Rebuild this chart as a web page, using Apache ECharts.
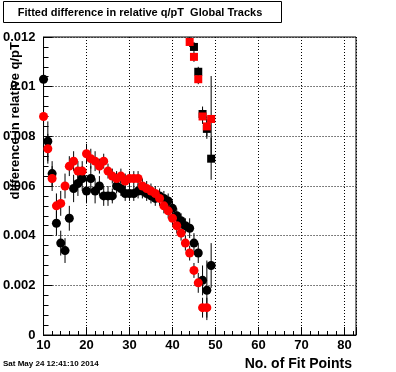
<!DOCTYPE html>
<html><head><meta charset="utf-8">
<script src="https://cdn.jsdelivr.net/npm/echarts@6/dist/echarts.min.js"></script>
<style>html,body{margin:0;padding:0;background:#fff}#c{width:396px;height:372px}</style>
</head><body><div id="c"></div>
<script>
// ---- data ----
var title = 'Fitted difference in relative q/pT  Global Tracks';
var xTitle = 'No. of Fit Points';
var yTitle = 'difference in relative q/pT';
var dateText = 'Sat May 24 12:41:10 2014';

var blackCircX = [10,11,12,13,14,15,16,17,18,19,20,21,22,23,24,25,26,27,28,29,30,31,32,33,34,35,36,37,38,39,40,41,42,43,44,45,46,47,48,49];
var blackCircY = [0.0103,0.0078,0.0065,0.0045,0.0037,0.0034,0.0047,0.0059,0.0061,0.0063,0.0058,0.0063,0.0058,0.0060,0.0056,0.0056,0.0056,0.0060,0.0059,0.0057,0.0057,0.0057,0.0058,0.0058,0.0057,0.0056,0.0055,0.0056,0.0055,0.0054,0.0051,0.0048,0.0046,0.0044,0.0043,0.0037,0.0033,0.0022,0.0018,0.0028];
var blackCircE = [0.0006,0.0008,0.0005,0.0005,0.0005,0.0005,0.0005,0.00055,0.0005,0.0005,0.0005,0.0005,0.0005,0.0004,0.0004,0.0004,0.0003,0.0003,0.0003,0.0003,0.0003,0.0003,0.0003,0.0003,0.0003,0.0003,0.0003,0.0003,0.0003,0.0003,0.0003,0.0003,0.0003,0.0003,0.0004,0.0004,0.0004,0.0006,0.0012,0.0009];

var redCircX = [10,11,12,13,14,15,16,17,18,19,20,21,22,23,24,25,26,27,28,29,30,31,32,33,34,35,36,37,38,39,40,41,42,43,44,45,46,47,48];
var redCircY = [0.0088,0.0075,0.0063,0.0052,0.0053,0.0060,0.0068,0.0070,0.0066,0.0066,0.0073,0.0071,0.0070,0.0068,0.0070,0.0066,0.0064,0.0063,0.0064,0.0062,0.0063,0.0063,0.0063,0.0060,0.0059,0.0058,0.0057,0.0055,0.0052,0.0050,0.0047,0.0044,0.0041,0.0037,0.0033,0.0026,0.0021,0.0011,0.0011];
var redCircE = [0.0006,0.0006,0.0005,0.0005,0.0005,0.0005,0.0004,0.0004,0.0004,0.0004,0.0004,0.0004,0.0004,0.0003,0.0003,0.0003,0.0003,0.0003,0.0003,0.0003,0.0003,0.0003,0.0003,0.0003,0.0003,0.0003,0.0003,0.0003,0.0003,0.0003,0.0003,0.0003,0.0003,0.0003,0.0003,0.0003,0.0004,0.0004,0.0004];

var blackSqX = [45,46,47,48,49];
var blackSqY = [0.0116,0.0106,0.0089,0.0083,0.0071];
var blackSqE = [0.0002,0.0002,0.0003,0.0004,0.00085];

var redSqX = [44,45,46,47,48,49];
var redSqY = [0.0118,0.0112,0.0103,0.0088,0.0084,0.0087];
var redSqE = [0.0002,0.0002,0.0002,0.0003,0.0004,0.00173];

var xTicks = [10,20,30,40,50,60,70,80];
var yTicks = [0,0.002,0.004,0.006,0.008,0.01,0.012];

// ---- build ----
function pts(xs, ys){ return xs.map(function(x,i){ return [x, ys[i]]; }); }
function errs(xs, ys, es){ return xs.map(function(x,i){ return [x, ys[i]-es[i], ys[i]+es[i]]; }); }
function errSeries(data){
  return {
    type:'custom', data:data, clip:true, silent:true, z:1,
    encode:{x:0,y:[1,2]},
    renderItem:function(params, api){
      var a = api.coord([api.value(0), api.value(1)]);
      var b = api.coord([api.value(0), api.value(2)]);
      return {type:'line', shape:{x1:a[0],y1:a[1],x2:b[0],y2:b[1]}, style:{stroke:'#000', lineWidth:1}};
    }
  };
}
var chart = echarts.init(document.getElementById('c'), null, {renderer:'canvas'});
var fontB = 'bold 13px "Liberation Sans", Arial, sans-serif';
chart.setOption({
  backgroundColor:'#fff',
  animation:false,
  grid:{left:41, right:40, top:37, bottom:37, show:true, borderColor:'#000', borderWidth:1, backgroundColor:'transparent'},
  xAxis:{
    type:'value', min:10, max:82.7, interval:10,
    axisLine:{show:true, lineStyle:{color:'#000', width:1}},
    axisTick:{show:true, inside:true, length:8, lineStyle:{color:'#000'}},
    minorTick:{show:true, splitNumber:5, length:4, lineStyle:{color:'#000'}},
    splitLine:{show:true, lineStyle:{color:'#000', type:[1,2], width:1}},
    axisLabel:{show:true, margin:4, showMaxLabel:false, color:'#000', fontFamily:'Liberation Sans', fontWeight:'bold', fontSize:13,
      formatter:function(v){ return xTicks.indexOf(Math.round(v))>=0 && Math.abs(v-Math.round(v))<1e-6 ? String(Math.round(v)) : ''; }}
  },
  yAxis:{
    type:'value', min:0, max:0.012, interval:0.002,
    axisLine:{show:true, lineStyle:{color:'#000', width:1}},
    axisTick:{show:true, inside:true, length:9, lineStyle:{color:'#000'}},
    minorTick:{show:true, splitNumber:5, length:5, lineStyle:{color:'#000'}},
    splitLine:{show:true, lineStyle:{color:'#000', type:[1,2], width:1}},
    axisLabel:{show:true, margin:8, color:'#000', fontFamily:'Liberation Sans', fontWeight:'bold', fontSize:13,
      formatter:function(v){ return String(parseFloat(v.toFixed(4))); }}
  },
  series:[
    errSeries(errs(blackCircX, blackCircY, blackCircE)),
    {type:'scatter', data:pts(blackCircX, blackCircY), symbol:'circle', symbolSize:9, itemStyle:{color:'#000', opacity:1}, z:2, clip:true},
    errSeries(errs(redCircX, redCircY, redCircE)),
    {type:'scatter', data:pts(redCircX, redCircY), symbol:'circle', symbolSize:9, itemStyle:{color:'#ff0000', opacity:1}, z:3, clip:true},
    errSeries(errs(blackSqX, blackSqY, blackSqE)),
    {type:'scatter', data:pts(blackSqX, blackSqY), symbol:'rect', symbolSize:8, itemStyle:{color:'#000', opacity:1}, z:4, clip:true},
    errSeries(errs(redSqX, redSqY, redSqE)),
    {type:'scatter', data:pts(redSqX, redSqY), symbol:'rect', symbolSize:8, itemStyle:{color:'#ff0000', opacity:1}, z:5, clip:true}
  ],
  graphic:[
    {type:'rect', shape:{x:3.5, y:1.5, width:278, height:21}, style:{fill:'#fff', stroke:'#000', lineWidth:1}, z:10},
    {type:'text', x:140, y:12.5, style:{text:title, font:'bold 11px "Liberation Sans", Arial, sans-serif', fill:'#000', textAlign:'center', textVerticalAlign:'middle'}, z:11},
    {type:'text', x:15, y:42, rotation:Math.PI/2, style:{text:yTitle, font:fontB, fill:'#000', textAlign:'right', textVerticalAlign:'middle'}, z:11},
    {type:'text', x:352, y:364, style:{text:xTitle, font:'bold 14px "Liberation Sans", Arial, sans-serif', fill:'#000', textAlign:'right', textVerticalAlign:'middle'}, z:11},
    {type:'text', x:3, y:364, style:{text:dateText, font:'bold 8px "Liberation Sans", Arial, sans-serif', fill:'#000', textAlign:'left', textVerticalAlign:'middle'}, z:11}
  ]
});
</script></body></html>
